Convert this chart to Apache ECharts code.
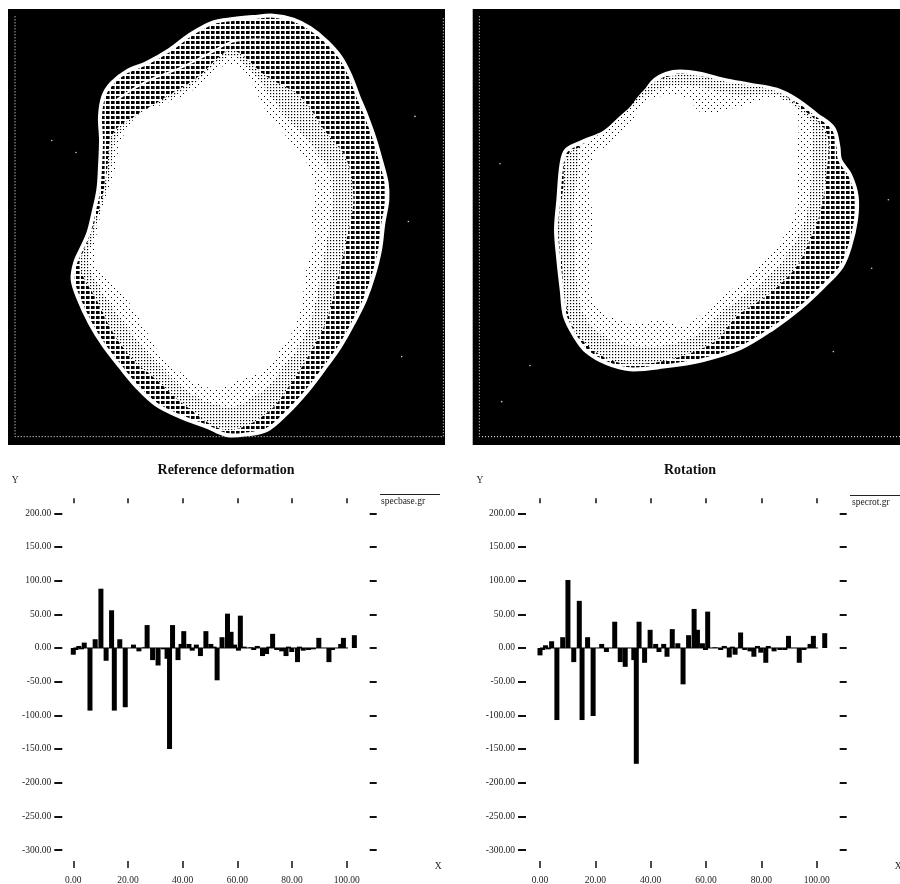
<!DOCTYPE html>
<html><head><meta charset="utf-8">
<style>html,body{margin:0;padding:0;background:#fff}#c{width:900px;height:884px}</style>
<script src="https://cdn.jsdelivr.net/npm/echarts@6/dist/echarts.min.js"></script>
</head><body><div id="c"></div>
<script>
// ---- bar data: x position, value
const baseX = [0,1,2,3,4,6.1,8,10.1,12,14,15,17,19,22,24,26,27,29,31,33,34.3,35.2,36.3,38.3,39.4,40.4,42.3,43.5,45,46.5,48.5,50.3,51.5,52.6,54.4,56.4,57.7,59,60.4,61.1,62.5,65,66,67.3,69.2,70.7,71.5,72.9,74.4,76.2,77.8,78.7,79.9,82,82.7,84.1,86,87.8,89.8,93.5,94.8,97.8,98.8,102.8];
const baseV = [-10,-3,3,-2,8,-93,13,88,-19,56,-93,13,-88,5,-5,1,34,-18,-26,-2,-16,-150,34,-18,6,25,6,-4,5,-12,25,6,2,-48,16,51,24,5,-4,48,2,1,-3,3,-12,-9,2,21,-3,-5,-12,2,-6,-21,2,-4,-3,-2,15,-21,-3,6,15,19];
const rotX = [0,1,2,3,4.2,6.1,8.2,10.1,12.2,14.2,15.2,17.2,19.2,22.3,24,27,29,30.8,33.9,34.8,35.8,37.8,39.8,41.8,43,44.7,45.9,47.8,49.8,51.7,53.7,55.7,56.9,58.7,59.8,60.6,63.2,65.3,66.6,68.4,70.5,69.5,72.5,74,75.9,77.3,78.6,79.8,81.6,82.5,84.6,86.7,88.5,89.8,93.7,95.4,97.6,98.8,102.9];
const rotV = [-11,-3,4,-2,10,-107,16,101,-21,70,-107,16,-101,6,-6,39,-21,-28,-18,-172,39,-22,27,6,-6,6,-13,28,7,-54,19,58,27,7,-3,54,1,-3,3,-14,-10,2,23,-3,-5,-13,3,-7,-22,3,-5,-3,-3,18,-22,-3,6,18,22];
const baseLineX = [0,104];
const rotLineX = [0,104.8];

const yTickMin = -300, yTickMax = 200, yTickStep = 50;
const xTickMin = 0, xTickMax = 100, xTickStep = 20;

// ---- shapes of the two pictures, in reference-crop units
const blob1Outer = [[640,68],[700,58],[760,52],[820,48],[880,60],[930,85],[980,125],[1020,170],[1050,225],[1075,290],[1100,350],[1125,420],[1145,490],[1160,550],[1162,600],[1150,670],[1140,750],[1120,830],[1095,900],[1060,970],[1020,1040],[970,1110],[920,1175],[860,1240],[800,1290],[740,1303],[680,1305],[620,1280],[540,1250],[470,1215],[410,1160],[360,1100],[310,1035],[270,970],[235,895],[218,840],[225,790],[245,745],[265,700],[280,640],[295,570],[300,500],[303,420],[300,350],[310,290],[335,250],[380,215],[440,190],[510,150],[570,105]];
const blob1Mid = [[700,150],[800,230],[900,290],[980,400],[1040,480],[1060,600],[1040,720],[1010,850],[980,960],[930,1060],[880,1140],[800,1240],[680,1290],[560,1220],[470,1140],[400,1080],[340,1000],[290,900],[240,800],[265,720],[300,620],[320,520],[340,400],[420,340],[500,290],[590,235],[660,170]];
const blob1Sparse = [[700,170],[775,240],[850,340],[930,430],[985,510],[1000,600],[985,700],[960,840],[940,940],[905,1025],[860,1090],[790,1170],[690,1220],[570,1180],[480,1100],[410,1020],[350,940],[290,850],[265,790],[280,710],[305,620],[330,525],[350,410],[420,340],[500,300],[585,250],[650,190]];
const blob1Inner = [[700,195],[750,240],[790,320],[850,400],[910,470],[945,560],[935,650],[940,720],[915,830],[905,920],[880,990],[840,1050],[790,1110],[720,1140],[640,1165],[560,1130],[480,1060],[420,960],[360,870],[290,800],[290,700],[310,620],[340,530],[365,420],[420,340],[500,310],[580,270],[640,215]];
const blob1Ridge = [[350,300],[440,245],[540,205],[630,160],[700,125],[800,120]];
const blob2Outer = [[690,215],[750,222],[820,240],[900,255],[980,270],[1040,300],[1100,345],[1150,385],[1165,440],[1170,480],[1200,525],[1220,590],[1218,660],[1200,740],[1175,800],[1120,860],[1050,925],[970,985],[870,1045],[760,1080],[640,1100],[540,1108],[470,1090],[410,1055],[375,1010],[345,950],[335,870],[325,780],[318,690],[325,600],[335,490],[350,450],[400,425],[460,400],[510,360],[570,300],[610,245],[650,222]];
const blob2Mid = [[1130,400],[1130,520],[1110,640],[1080,720],[1040,800],[960,880],[860,950],[800,1020],[720,1060],[600,1090],[480,1080],[380,1000],[345,900],[335,780],[325,680],[340,560],[350,470],[420,425],[500,370],[600,255],[700,225],[850,250],[980,275],[1060,330]];
const blob2Sparse = [[1085,370],[1085,510],[1075,620],[1050,700],[1000,780],[920,860],[820,935],[750,1000],[680,1030],[580,1040],[480,1020],[405,950],[380,850],[375,740],[370,620],[385,510],[390,445],[460,395],[520,340],[600,280],[700,255],[860,285],[980,285],[1050,335]];
const blob2Inner = [[540,370],[600,300],[700,290],[760,340],[870,320],[980,295],[1040,340],[1040,480],[1040,600],[1020,680],[960,760],[880,840],[780,920],[700,980],[640,960],[560,970],[480,950],[430,900],[420,800],[430,680],[420,560],[430,470],[500,420]];
const frame1 = [[45,50],[45,1310],[1330,1310],[1330,50]];
const frame2 = [[88,50],[88,1310],[1350,1310]];
const specks1 = [[228,458],[155,422],[1245,350],[1205,1070],[1225,665]];
const specks2 = [[150,492],[1315,600],[1265,805],[1150,1055],[240,1097],[155,1205]];

// ---- textures
function tile(w,h,bg,draw){const c=document.createElement('canvas');c.width=w;c.height=h;const g=c.getContext('2d');g.fillStyle=bg;g.fillRect(0,0,w,h);g.fillStyle='#000';draw(g);return {image:c,repeat:'repeat'};}
const meshDark = tile(5,5,'#fff',g=>g.fillRect(1,1,3.6,3));
const meshDots = tile(3,3,'#fff',g=>g.fillRect(0,0,1.2,1.2));
const meshSparse = tile(6,6,'#fff',g=>{g.fillRect(0,0,1,1);g.fillRect(3,3,1,1);});

function shape(xi,yi,pts,style,line){
  return {type:'custom',xAxisIndex:xi,yAxisIndex:yi,silent:true,animation:false,encode:{x:0,y:1},data:pts,
    renderItem(params,api){ if(params.dataIndex!==0) return null;
      return {type:line?'polyline':'polygon',shape:{points:pts.map(p=>api.coord(p)),smooth:0.35},style}; }};
}
function blob(xi,yi,outer,mid,sparse,inner,frame,specks){
  return [
    {type:'line',xAxisIndex:xi,yAxisIndex:yi,data:frame,showSymbol:false,silent:true,animation:false,lineStyle:{color:'#fff',width:1,type:[1,2]}},
    {type:'scatter',xAxisIndex:xi,yAxisIndex:yi,data:specks,symbolSize:1.6,silent:true,animation:false,itemStyle:{color:'#fff'}},
    shape(xi,yi,outer,{fill:meshDark,stroke:'#fff',lineWidth:4}),
    shape(xi,yi,mid,{fill:meshDots}),
    shape(xi,yi,sparse,{fill:meshSparse}),
    shape(xi,yi,inner,{fill:'#fff'})
  ];
}
const serif='"Liberation Serif","Times New Roman",serif';
const panelAxis=(g,min,max,inv)=>({type:'value',gridIndex:g,min,max,inverse:!!inv,show:false});
function barSet(xs,vs){return xs.map((x,i)=>[x,vs[i]]);}
const fmt=v=>v.toFixed(2);
function chartAxes(g,leftOff){
  const x=[{type:'value',gridIndex:g,position:'bottom',offset:11,min:xTickMin,max:xTickMax,interval:xTickStep,splitLine:{show:false},axisLine:{show:false,onZero:false},
      axisTick:{show:true,length:7,lineStyle:{color:'#111',width:1.5}},axisLabel:{formatter:fmt,fontFamily:serif,fontSize:9.5,color:'#222',margin:14},
      name:'X',nameLocation:'end',nameGap:g===2?88:78,nameTextStyle:{fontFamily:serif,fontSize:9.5,color:'#222',verticalAlign:'top'}},
    {type:'value',gridIndex:g,position:'top',offset:10,min:xTickMin,max:xTickMax,interval:xTickStep,splitLine:{show:false},axisLine:{show:false,onZero:false},
      axisTick:{show:true,length:5,lineStyle:{color:'#111',width:1.5}},axisLabel:{show:false}}];
  const y=[{type:'value',gridIndex:g,position:'left',offset:leftOff,min:yTickMin,max:yTickMax,interval:yTickStep,splitLine:{show:false},axisLine:{show:false,onZero:false},
      axisTick:{show:true,length:8,lineStyle:{color:'#111',width:2}},axisLabel:{formatter:fmt,fontFamily:serif,fontSize:9.5,color:'#222',margin:11},
      name:'Y',nameLocation:'end',nameGap:28,nameTextStyle:{fontFamily:serif,fontSize:9.5,color:'#222',padding:[0,g===2?94:92,0,0]}},
    {type:'value',gridIndex:g,position:'right',offset:23,min:yTickMin,max:yTickMax,interval:yTickStep,splitLine:{show:false},axisLine:{show:false,onZero:false},
      axisTick:{show:true,length:7,lineStyle:{color:'#111',width:2}},axisLabel:{show:false}}];
  return {x,y};
}
const a1=chartAxes(2,11), a2=chartAxes(3,14);
function bars(name,xi,yi,xs,vs,lineX){
  return [
    {type:'bar',name,xAxisIndex:xi,yAxisIndex:yi,data:barSet(xs,vs),barWidth:5,clip:false,animation:false,silent:true,itemStyle:{color:'#000'}},
    {type:'line',xAxisIndex:xi,yAxisIndex:yi,data:lineX.map(x=>[x,0]),showSymbol:false,clip:false,animation:false,silent:true,lineStyle:{color:'#000',width:1}}
  ];
}
const chart=echarts.init(document.getElementById('c'),null,{renderer:'canvas'});
chart.setOption({
  animation:false,backgroundColor:'#fff',
  title:[
    {text:'Reference deformation',left:221,top:458,textAlign:'center',textStyle:{fontFamily:serif,fontWeight:'bold',fontSize:14,color:'#111'}},
    {text:'Rotation',left:685,top:458,textAlign:'center',textStyle:{fontFamily:serif,fontWeight:'bold',fontSize:14,color:'#111'}}
  ],
  grid:[
    {left:8,top:9,width:437,height:436,show:true,backgroundColor:'#000',borderWidth:0,outerBoundsMode:'none'},
    {left:472.7,top:9,width:427.3,height:436,show:true,backgroundColor:'#000',borderWidth:0,outerBoundsMode:'none'},
    {left:73.3,top:513.3,width:273.4,height:336.7,outerBoundsMode:'none'},
    {left:540,top:513.3,width:276.7,height:336.7,outerBoundsMode:'none'}
  ],
  xAxis:[panelAxis(0,24,1335),panelAxis(1,68,1350),a1.x[0],a1.x[1],a2.x[0],a2.x[1]],
  yAxis:[panelAxis(0,28,1335,true),panelAxis(1,28,1335,true),a1.y[0],a1.y[1],a2.y[0],a2.y[1]],
  series:[
    ...blob(0,0,blob1Outer,blob1Mid,blob1Sparse,blob1Inner,frame1,specks1),
    shape(0,0,blob1Ridge,{fill:'none',stroke:'#fff',lineWidth:2},true),
    ...blob(1,1,blob2Outer,blob2Mid,blob2Sparse,blob2Inner,frame2,specks2),
    ...bars('specbase.gr',2,2,baseX,baseV,baseLineX),
    ...bars('specrot.gr',4,4,rotX,rotV,rotLineX)
  ],
  graphic:[
    {type:'line',shape:{x1:380,y1:494.5,x2:440,y2:494.5},style:{stroke:'#222',lineWidth:1},silent:true},
    {type:'text',x:381,y:496,style:{text:'specbase.gr',fontFamily:serif,fontSize:9.5,fill:'#222'},silent:true},
    {type:'line',shape:{x1:850,y1:495.5,x2:900,y2:495.5},style:{stroke:'#222',lineWidth:1},silent:true},
    {type:'text',x:852,y:497,style:{text:'specrot.gr',fontFamily:serif,fontSize:9.5,fill:'#222'},silent:true}
  ]
});
</script></body></html>
